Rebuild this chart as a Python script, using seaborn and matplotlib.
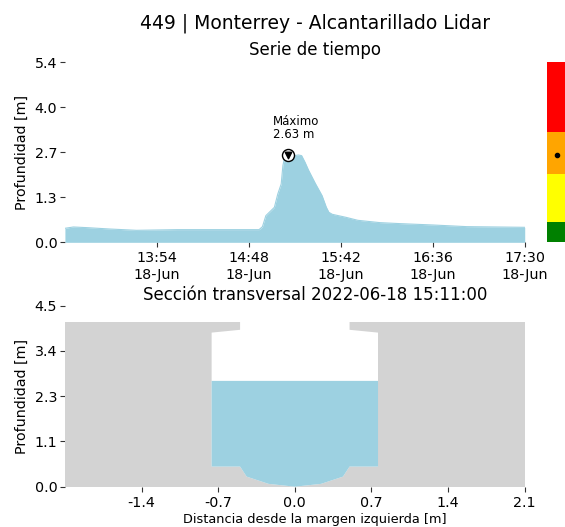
import numpy as np
import pandas as pd
import matplotlib
matplotlib.use("Agg")
import matplotlib.pyplot as plt
import matplotlib.dates as mdates
import seaborn as sns

# ----------------------------------------------------------------------
# data
# ----------------------------------------------------------------------
day = "2022-06-18"
series_minutes = [0, 5, 13, 26, 42, 66, 85, 114, 116, 118, 120, 123, 125, 127,
                  128, 129, 131, 133, 135, 137, 139, 141, 143, 147, 151, 153.5,
                  155, 157, 165, 172, 185, 197, 216, 236, 270]
series_depth = [0.42, 0.46, 0.44, 0.40, 0.36, 0.38, 0.38, 0.38, 0.47, 0.80,
                0.90, 1.05, 1.45, 1.75, 2.30, 2.55, 2.63, 2.58, 2.60, 2.62,
                2.60, 2.40, 2.17, 1.77, 1.40, 1.05, 0.90, 0.84, 0.75, 0.66,
                0.59, 0.56, 0.52, 0.47, 0.45]
max_time = "15:11"
max_depth = 2.63

ts_xticks = ["13:54", "14:48", "15:42", "16:36", "17:30"]
ts_xlim = ["13:00", "17:30"]
ts_yticks = [0.0, 1.35, 2.7, 4.05, 5.4]
ts_yticklabels = ["0.0", "1.3", "2.7", "4.0", "5.4"]

# alert levels (bottom, top) and colours of the side bar
level_edges = [0.0, 0.62, 2.05, 3.30, 5.4]
level_colors = ["green", "yellow", "orange", "red"]

# cross section of the sewer (inner contour) and outer block
section_x = [-0.5, -0.5, -0.76, -0.76, -0.5, -0.44, -0.24, 0.0,
             0.24, 0.44, 0.5, 0.76, 0.76, 0.5, 0.5]
section_y = [4.1, 3.9, 3.83, 0.5, 0.5, 0.25, 0.07, 0.0,
             0.07, 0.25, 0.5, 0.5, 3.83, 3.9, 4.1]
block_x = [-2.1, 2.1]
block_top = 4.1
water_level = 2.63

sec_xticks = [-1.4, -0.7, 0.0, 0.7, 1.4, 2.1]
sec_yticks = [0.0, 1.125, 2.25, 3.375, 4.5]
sec_yticklabels = ["0.0", "1.1", "2.3", "3.4", "4.5"]

WATER = "#9dd1e1"
GREY = "#d3d3d3"

# ----------------------------------------------------------------------
sns.set_style("ticks")
plt.rcParams["font.family"] = ["DejaVu Sans"]

fig = plt.figure(figsize=(5.65, 5.27), dpi=100)
ax1 = fig.add_axes([0.1149, 0.5402, 0.8138, 0.3416])
ax_bar = fig.add_axes([547.3 / 565, 0.5402, 20 / 565, 0.3416])
ax2 = fig.add_axes([0.1149, 0.0765, 0.8138, 0.3435])

# all titles are centred over the plot + alert bar block
title_x = 315 / 565
fig.text(title_x, 0.9463, "449 | Monterrey - Alcantarillado Lidar",
         ha="center", va="baseline", fontsize=13.5, color="black")
fig.text(title_x, 0.8956, "Serie de tiempo", ha="center", va="baseline",
         fontsize=12, color="black")
fig.text(title_x, 0.4307, "Sección transversal 2022-06-18 15:11:00",
         ha="center", va="baseline", fontsize=12, color="black")

# ---- time series ------------------------------------------------------
t0 = pd.Timestamp(f"{day} 13:00")
times = [t0 + pd.Timedelta(minutes=m) for m in series_minutes]
df = pd.DataFrame({"time": times, "depth": series_depth})

ax1.fill_between(df["time"], 0, df["depth"], color=WATER, lw=0)
sns.lineplot(data=df, x="time", y="depth", ax=ax1, color=WATER, lw=0.8)

tmax = pd.Timestamp(f"{day} {max_time}")
ax1.scatter([tmax], [max_depth], s=75, facecolor="white", edgecolor="black",
            linewidths=1.0, zorder=5)
ax1.scatter([tmax], [max_depth], s=22, marker="v", color="black", zorder=6)
ax1.annotate(f"Máximo\n{max_depth:.2f} m", xy=(tmax, max_depth),
             xytext=(-11, 10), textcoords="offset points", ha="left",
             va="bottom", fontsize=8.5, color="black", linespacing=1.0)

ax1.set_xlim(pd.Timestamp(f"{day} {ts_xlim[0]}"), pd.Timestamp(f"{day} {ts_xlim[1]}"))
ax1.set_xticks([pd.Timestamp(f"{day} {h}") for h in ts_xticks])
ax1.xaxis.set_major_formatter(mdates.DateFormatter("%H:%M\n%d-%b"))
ax1.set_ylim(0, 5.4)
ax1.set_yticks(ts_yticks)
ax1.set_yticklabels(ts_yticklabels)
ax1.set_xlabel("")
ax1.set_ylabel("Profundidad [m]", fontsize=10.3, color="black")

# ---- alert bar --------------------------------------------------------
bottoms = level_edges[:-1]
heights = np.diff(level_edges)
ax_bar.bar(0, heights, bottom=bottoms, width=1, color=level_colors, lw=0)
ax_bar.plot(0, max_depth, "o", color="black", ms=3)
ax_bar.set_xlim(-0.5, 0.5)
ax_bar.set_ylim(0, 5.4)
ax_bar.axis("off")

# ---- cross section ----------------------------------------------------
ax2.fill_between(block_x, 0, block_top, color=GREY, lw=0)
ax2.fill(section_x, section_y, color="white", lw=0)
ax2.fill(section_x, np.minimum(section_y, water_level), color=WATER, lw=0)

ax2.set_xlim(-2.1, 2.1)
ax2.set_ylim(0, 4.5)
ax2.set_xticks(sec_xticks)
ax2.set_xticklabels([f"{v:.1f}" for v in sec_xticks])
ax2.set_yticks(sec_yticks)
ax2.set_yticklabels(sec_yticklabels)
ax2.set_xlabel("Distancia desde la margen izquierda [m]", fontsize=9.3,
               color="black")
ax2.xaxis.set_label_coords((315 - 64.9) / 459.8, -0.145)
ax2.set_ylabel("Profundidad [m]", fontsize=10.3, color="black")

for ax in (ax1, ax2):
    for s in ax.spines.values():
        s.set_visible(False)
    ax.tick_params(axis="both", length=3.5, width=0.8, color="#333333",
                   labelsize=10.3, labelcolor="black")
    ax.tick_params(axis="y", pad=2)
    ax.tick_params(axis="x", pad=3)

fig.savefig("out.png", dpi=100)
